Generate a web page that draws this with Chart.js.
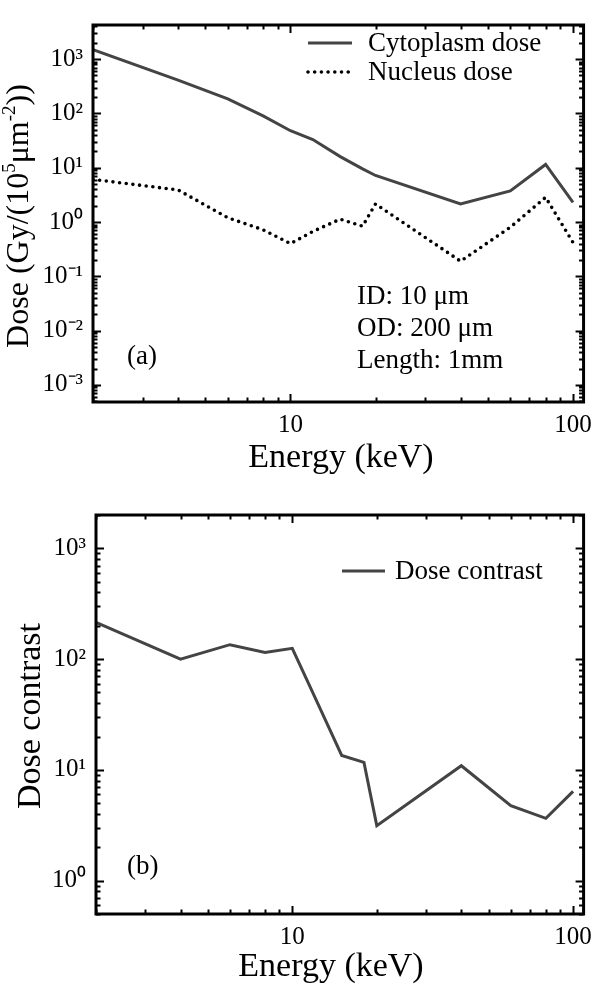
<!DOCTYPE html>
<html><head><meta charset="utf-8">
<script src="https://cdn.jsdelivr.net/npm/chart.js@4.4.0/dist/chart.umd.min.js"></script>
<style>
html,body{margin:0;padding:0;background:#fff;}
#wrap{position:relative;width:600px;height:987px;background:#fff;}
#c1{position:absolute;left:0;top:0;}
#c2{position:absolute;left:0;top:490px;}
</style></head><body>
<div id="wrap">
<canvas id="c1" width="600" height="490"></canvas>
<canvas id="c2" width="600" height="497"></canvas>
</div>
<script>
// ---- data ----
const energy = [2, 4, 6, 8, 10, 12, 15, 18, 20, 40, 60, 80, 100];
const cytoplasmDose = [1500, 410, 185, 90, 48, 33, 16, 9.5, 7.2, 2.15, 3.75, 11.5, 2.3];
const nucleusDose = [6.1, 3.9, 1.2, 0.72, 0.40, 0.67, 1.13, 0.84, 2.15, 0.19, 0.80, 2.85, 0.42];
const doseContrast = [215, 100, 135, 115, 125, 46, 13.5, 11.7, 3.14, 10.9, 4.76, 3.65, 6.4];

const xTickValues = [10, 100];
const xTickLabels = ['10', '100'];
const doseTickValues = [1e-3, 1e-2, 1e-1, 1, 10, 100, 1000];
const doseTickLabels = ['10⁻³', '10⁻²', '10⁻¹', '10⁰', '10¹', '10²', '10³'];
const contrastTickValues = [1, 10, 100, 1000];
const contrastTickLabels = ['10⁰', '10¹', '10²', '10³'];

const xTitle = 'Energy (keV)';
// y title of panel (a): [text, isSuperscript]
const doseTitleParts = [['Dose (Gy/(10', false], ['5', true], ['μm', false], ['-2', true], ['))', false]];
const contrastTitle = 'Dose contrast';
const panelALabel = '(a)';
const panelBLabel = '(b)';
const specLines = ['ID: 10 μm', 'OD: 200 μm', 'Length: 1mm'];

// ---- styling ----
const FAMILY = "'Liberation Serif', 'Times New Roman', serif";
const pts = (ys) => energy.map((e, i) => ({x: e, y: ys[i]}));

function logTickList(min, max) {
  const out = [];
  const d0 = Math.floor(Math.log10(min)), d1 = Math.ceil(Math.log10(max));
  for (let d = d0; d <= d1; d++) {
    for (let k = 1; k <= 9; k++) {
      const v = k * Math.pow(10, d);
      if (v >= min * 0.9999 && v <= max * 1.0001) out.push({v, major: k === 1});
    }
  }
  return out;
}

const frameTicks = {
  id: 'frameTicks',
  afterDatasetsDraw(chart) {
    const {ctx, chartArea: a, scales: {x, y}} = chart;
    ctx.save();
    ctx.strokeStyle = '#000';
    ctx.lineWidth = 2;
    const minorLen = 4.5, majorLen = 8;
    ctx.beginPath();
    logTickList(x.min, x.max).forEach(t => {
      const px = Math.round(x.getPixelForValue(t.v)) + 0.5;
      const L = t.major ? majorLen : minorLen;
      ctx.moveTo(px, a.bottom); ctx.lineTo(px, a.bottom - L);
      ctx.moveTo(px, a.top); ctx.lineTo(px, a.top + L);
    });
    logTickList(y.min, y.max).forEach(t => {
      const py = Math.round(y.getPixelForValue(t.v)) + 0.5;
      const L = t.major ? majorLen : minorLen;
      ctx.moveTo(a.left, py); ctx.lineTo(a.left + L, py);
      ctx.moveTo(a.right, py); ctx.lineTo(a.right - L, py);
    });
    ctx.stroke();
    ctx.lineWidth = 3;
    ctx.strokeRect(a.left, a.top, a.right - a.left, a.bottom - a.top);
    ctx.restore();
  }
};

const overlay = {
  id: 'overlay',
  afterDraw(chart, args, opts) {
    const {ctx} = chart;
    ctx.save();
    ctx.fillStyle = '#000';
    ctx.textBaseline = 'middle';
    ctx.textAlign = 'left';
    ctx.font = `${opts.fontSize}px ${FAMILY}`;
    // legend
    chart.data.datasets.forEach((ds, i) => {
      const ly = opts.legendY + i * opts.legendRow;
      ctx.save();
      ctx.strokeStyle = ds.borderColor;
      ctx.lineWidth = ds.borderWidth;
      ctx.lineCap = ds.borderCapStyle || 'butt';
      ctx.setLineDash(ds.borderDash || []);
      ctx.beginPath();
      ctx.moveTo(opts.legendX, ly);
      ctx.lineTo(opts.legendX + opts.sampleLen, ly);
      ctx.stroke();
      ctx.restore();
      ctx.fillText(ds.label, opts.legendX + opts.sampleLen + opts.gap, ly + 1);
    });
    // panel label
    ctx.fillText(opts.panelLabel, opts.panelX, opts.panelY);
    // notes
    (opts.notes || []).forEach((s, i) => {
      ctx.fillText(s, opts.notesX, opts.notesY + i * opts.notesRow);
    });
    // x title
    ctx.textAlign = 'center';
    ctx.textBaseline = 'alphabetic';
    ctx.font = `${opts.titleSize}px ${FAMILY}`;
    ctx.fillText(opts.xTitle, opts.xTitleX, opts.xTitleBaseline);
    // y title (rotated, with superscripts)
    ctx.save();
    ctx.translate(opts.yTitleBaseline, opts.yTitleCenter);
    ctx.rotate(-Math.PI / 2);
    ctx.textAlign = 'left';
    const ys = opts.yTitleSize;
    const normalFont = `${ys}px ${FAMILY}`;
    const supFont = `${Math.round(ys * 0.6)}px ${FAMILY}`;
    let total = 0;
    opts.yTitleParts.forEach(([s, sup]) => { ctx.font = sup ? supFont : normalFont; total += ctx.measureText(s).width; });
    let cx = -total / 2;
    opts.yTitleParts.forEach(([s, sup]) => {
      ctx.font = sup ? supFont : normalFont;
      ctx.fillText(s, cx, sup ? -ys * 0.42 : 0);
      cx += ctx.measureText(s).width;
    });
    ctx.restore();
    ctx.restore();
  }
};

function baseScales(xAxisHeight, yAxisWidth, yMin, yMax, yTicks, yLabels) {
  return {
    x: {
      type: 'logarithmic', min: 2, max: 109,
      afterBuildTicks: s => { s.ticks = xTickValues.map(v => ({value: v})); },
      afterFit: s => { s.height = xAxisHeight; },
      ticks: {callback: (v, i) => xTickLabels[i], font: {family: FAMILY, size: 25}, color: '#000', padding: 8, maxRotation: 0, autoSkip: false},
      grid: {display: false, drawTicks: false},
      border: {display: false},
      title: {display: false}
    },
    y: {
      type: 'logarithmic', min: yMin, max: yMax,
      afterBuildTicks: s => { s.ticks = yTicks.map(v => ({value: v})); },
      afterFit: s => { s.width = yAxisWidth; },
      ticks: {callback: (v, i) => yLabels[i], font: {family: FAMILY, size: 25}, color: '#000', padding: 10, autoSkip: false},
      grid: {display: false, drawTicks: false},
      border: {display: false},
      title: {display: false}
    }
  };
}

new Chart(document.getElementById('c1'), {
  type: 'line',
  data: {
    datasets: [
      {label: 'Cytoplasm dose', data: pts(cytoplasmDose), borderColor: '#444444', borderWidth: 3, pointRadius: 0, tension: 0, borderCapStyle: 'butt'},
      {label: 'Nucleus dose', data: pts(nucleusDose), borderColor: '#000000', borderWidth: 3.6, borderDash: [0, 6.7], borderCapStyle: 'round', pointRadius: 0, tension: 0}
    ]
  },
  options: {
    responsive: false, animation: false,
    layout: {padding: {left: 0, top: 4, right: 12, bottom: 0}},
    plugins: {
      legend: {display: false}, tooltip: {enabled: false},
      overlay: {fontSize: 27, legendX: 308, legendY: 43, legendRow: 29, sampleLen: 44, gap: 16,
        panelLabel: panelALabel, panelX: 127, panelY: 357,
        notes: specLines, notesX: 357, notesY: 297, notesRow: 32,
        titleSize: 34, xTitle: xTitle, xTitleX: 341, xTitleBaseline: 467,
        yTitleSize: 32, yTitleParts: doseTitleParts, yTitleBaseline: 28, yTitleCenter: 216}
    },
    scales: baseScales(88, 93, 4.85e-4, 4250, doseTickValues, doseTickLabels)
  },
  plugins: [frameTicks, overlay]
});

new Chart(document.getElementById('c2'), {
  type: 'line',
  data: {
    datasets: [
      {label: 'Dose contrast', data: pts(doseContrast), borderColor: '#444444', borderWidth: 3, pointRadius: 0, tension: 0, borderCapStyle: 'butt'}
    ]
  },
  options: {
    responsive: false, animation: false,
    layout: {padding: {left: 0, top: 24, right: 8, bottom: 0}},
    plugins: {
      legend: {display: false}, tooltip: {enabled: false},
      overlay: {fontSize: 27, legendX: 342, legendY: 81, legendRow: 29, sampleLen: 43, gap: 10,
        panelLabel: panelBLabel, panelX: 127, panelY: 377,
        notes: [], notesX: 0, notesY: 0, notesRow: 0,
        titleSize: 34, xTitle: xTitle, xTitleX: 331, xTitleBaseline: 486,
        yTitleSize: 34, yTitleParts: [[contrastTitle, false]], yTitleBaseline: 40, yTitleCenter: 226}
    },
    scales: baseScales(73, 96, 0.5, 2000, contrastTickValues, contrastTickLabels)
  },
  plugins: [frameTicks, overlay]
});
</script>
</body></html>
